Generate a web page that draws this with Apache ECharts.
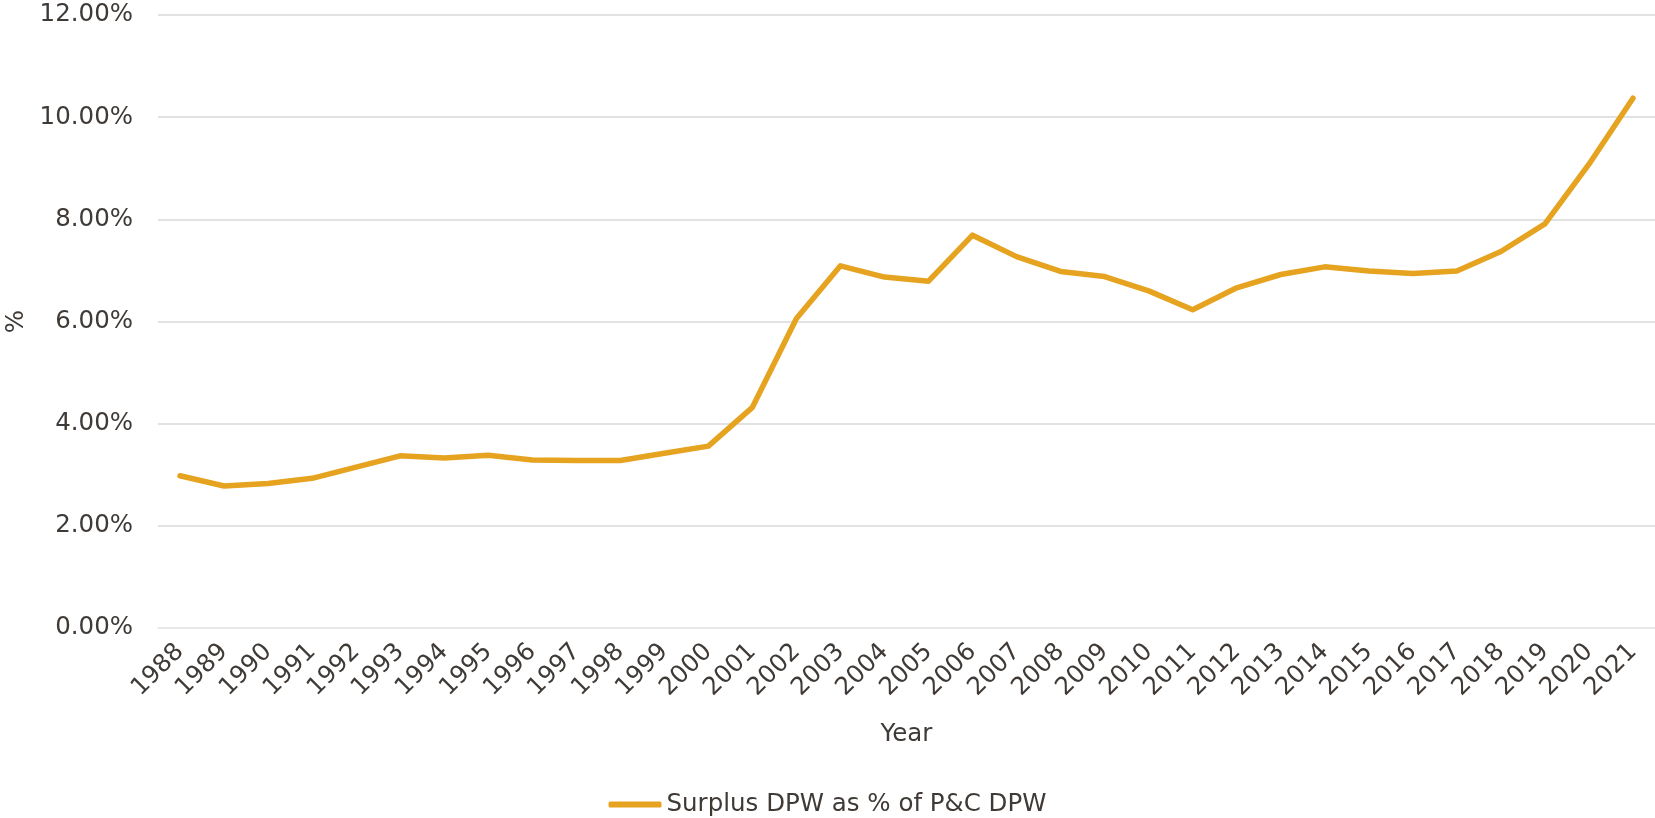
<!DOCTYPE html>
<html>
<head>
<meta charset="utf-8">
<script src="https://cdn.jsdelivr.net/npm/echarts@6/dist/echarts.min.js"></script>
<style>
  html, body { margin:0; padding:0; background:#fff; }
  #chart { width:1655px; height:818px; }
</style>
</head>
<body>
<div id="chart"></div>
<script>
var years = ["1988","1989","1990","1991","1992","1993","1994","1995","1996","1997","1998","1999","2000",
	"2001","2002","2003","2004","2005","2006","2007","2008","2009","2010","2011","2012","2013","2014",
	"2015","2016","2017","2018","2019","2020","2021"];

// surplus DPW as % of P&C DPW
var surplusPct = [2.98,2.78,2.83,2.93,3.15,3.37,3.33,3.38,3.29,3.28,3.28,3.42,3.56,
	4.32,6.06,7.09,6.87,6.79,7.69,7.27,6.98,6.88,6.60,6.23,6.66,6.92,7.07,
	6.99,6.94,6.99,7.37,7.91,9.08,10.37];

var yTicks = [0,2,4,6,8,10,12];

var TEXT_COLOR = "#3f3a36";
var LINE_COLOR = "#e5a320";
var FONT = "'DejaVu Sans', Verdana, sans-serif";
var FONT_SIZE = 24.5;

var chart = echarts.init(document.getElementById("chart"));

var option = {
	animation:false,
	textStyle:{fontFamily:FONT, color:TEXT_COLOR},
	grid:{left:158, right:0, top:15, bottom:190, containLabel:false, outerBoundsMode:"none"},
	legend:{
		top:787,
		left:"center",
		icon:"roundRect",
		itemWidth:53,
		itemHeight:6,
		textStyle:{fontFamily:FONT, fontSize:FONT_SIZE, color:TEXT_COLOR},
		data:["Surplus DPW as % of P&C DPW"]
	},
	xAxis:{
		type:"category",
		data:years,
		boundaryGap:true,
		name:"Year",
		nameLocation:"middle",
		nameGap:94,
		nameTextStyle:{fontFamily:FONT, fontSize:FONT_SIZE, color:TEXT_COLOR},
		axisLine:{show:true, lineStyle:{color:"#ececec", width:1.5}},
		axisTick:{show:false},
		axisLabel:{rotate:45, margin:20, fontSize:FONT_SIZE, color:TEXT_COLOR, fontFamily:FONT, interval:0},
		splitLine:{show:false}
	},
	yAxis:{
		type:"value",
		min:yTicks[0],
		max:yTicks[yTicks.length-1],
		interval:2,
		name:"%",
		nameLocation:"middle",
		nameGap:127,
		nameRotate:90,
		nameTextStyle:{fontFamily:FONT, fontSize:FONT_SIZE, color:TEXT_COLOR},
		axisLine:{show:false},
		axisTick:{show:false},
		axisLabel:{
			margin:25,
			fontSize:FONT_SIZE,
			color:TEXT_COLOR,
			fontFamily:FONT,
			formatter:function(v){ return v.toFixed(2)+"%"; }
		},
		splitLine:{lineStyle:{color:"#d9d9d9", width:1.5}}
	},
	series:[{
		name:"Surplus DPW as % of P&C DPW",
		type:"line",
		data:surplusPct,
		showSymbol:false,
		symbol:"none",
		color:LINE_COLOR,
		lineStyle:{color:LINE_COLOR, width:5.5, cap:"round", join:"round"}
	}]
};

chart.setOption(option);
</script>
</body>
</html>
